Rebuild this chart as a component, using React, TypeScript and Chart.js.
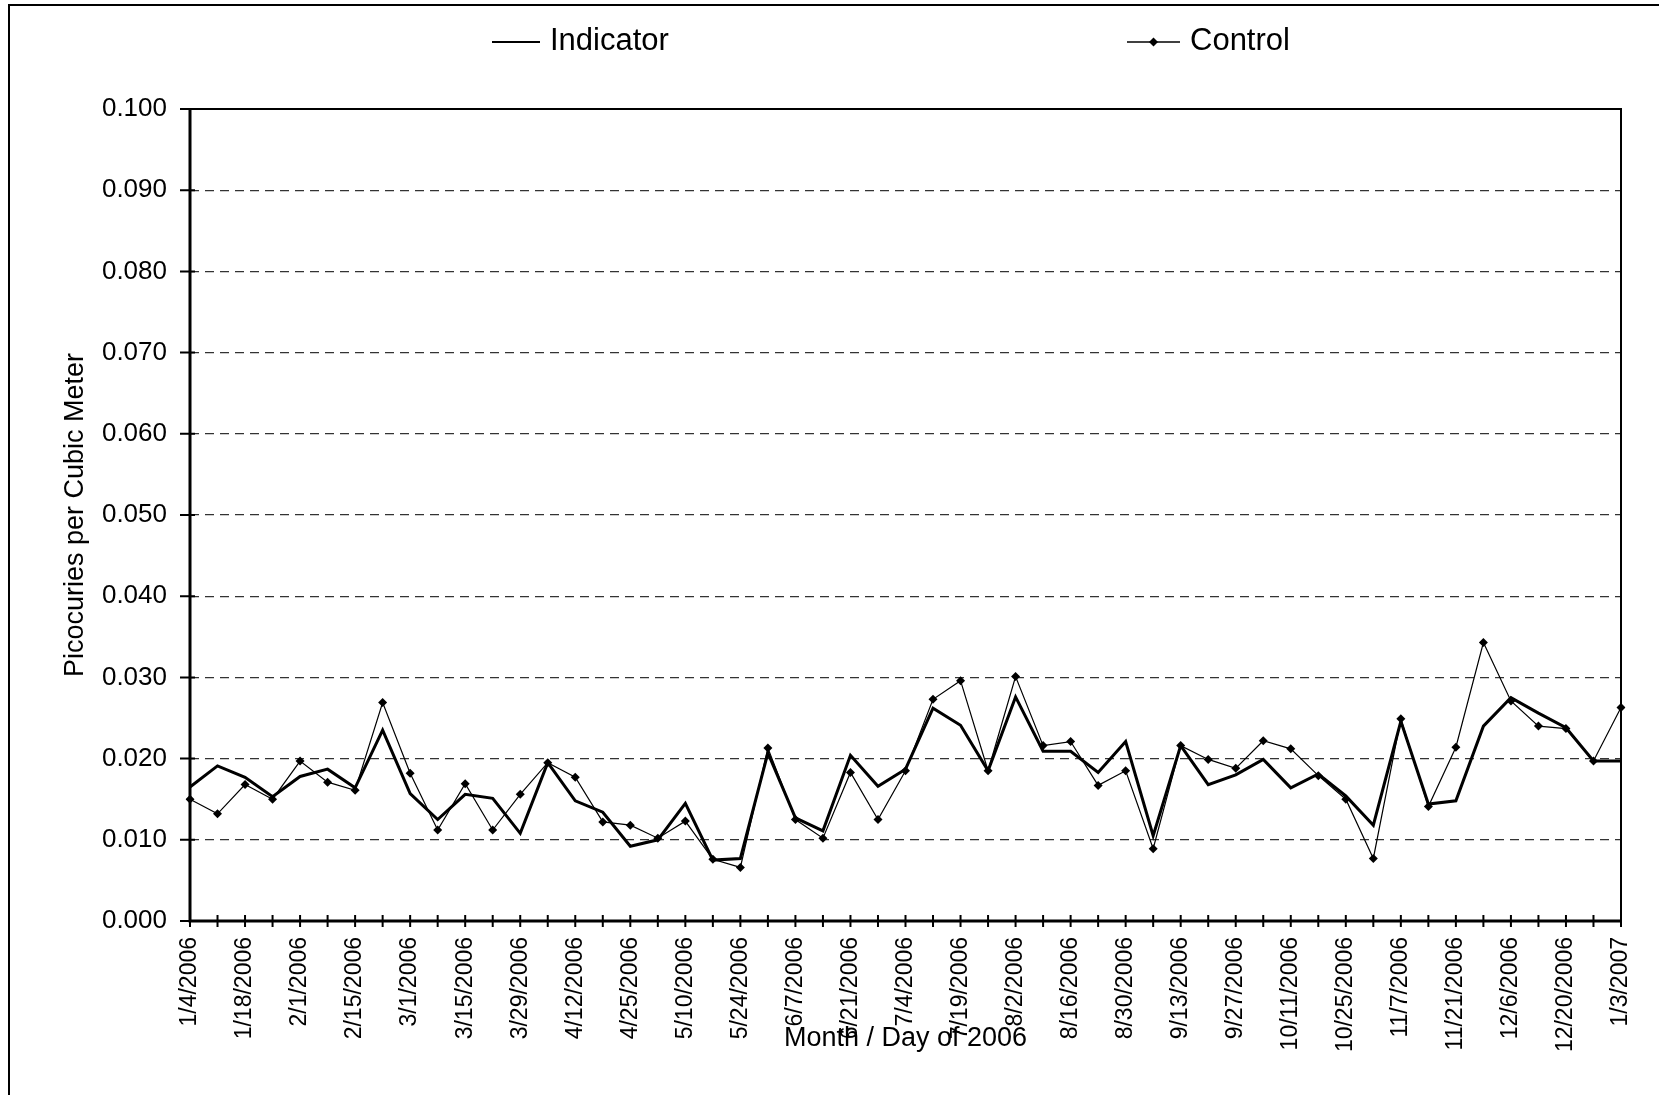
import React, { useEffect, useRef } from "react";
import { Chart, registerables } from "chart.js";

Chart.register(...registerables);

const categories = [
  "1/4/2006", "1/11/2006", "1/18/2006", "1/25/2006", "2/1/2006", "2/8/2006", "2/15/2006", "2/22/2006",
  "3/1/2006", "3/8/2006", "3/15/2006", "3/22/2006", "3/29/2006", "4/5/2006", "4/12/2006", "4/19/2006",
  "4/25/2006", "5/3/2006", "5/10/2006", "5/17/2006", "5/24/2006", "5/31/2006", "6/7/2006", "6/14/2006",
  "6/21/2006", "6/28/2006", "7/4/2006", "7/12/2006", "7/19/2006", "7/26/2006", "8/2/2006", "8/9/2006",
  "8/16/2006", "8/23/2006", "8/30/2006", "9/6/2006", "9/13/2006", "9/20/2006", "9/27/2006", "10/4/2006",
  "10/11/2006", "10/18/2006", "10/25/2006", "11/1/2006", "11/7/2006", "11/14/2006", "11/21/2006", "11/29/2006",
  "12/6/2006", "12/13/2006", "12/20/2006", "12/27/2006", "1/3/2007",
];

const indicator = [
  0.0165, 0.0191, 0.0177, 0.0153, 0.0178, 0.0187, 0.0164, 0.0235, 0.0157, 0.0125,
  0.0156, 0.0151, 0.0108, 0.0195, 0.0148, 0.0134, 0.0092, 0.0100, 0.0145, 0.0075,
  0.0077, 0.0207, 0.0127, 0.0111, 0.0204, 0.0166, 0.0187, 0.0262, 0.0241, 0.0185,
  0.0276, 0.0209, 0.0209, 0.0183, 0.0221, 0.0105, 0.0216, 0.0168, 0.0180, 0.0199,
  0.0164, 0.0181, 0.0154, 0.0118, 0.0246, 0.0144, 0.0148, 0.0240, 0.0275, 0.0256,
  0.0238, 0.0197, 0.0197,
];

const control = [
  0.0150, 0.0132, 0.0168, 0.0150, 0.0197, 0.0171, 0.0161, 0.0269, 0.0182, 0.0112,
  0.0169, 0.0112, 0.0156, 0.0195, 0.0177, 0.0122, 0.0118, 0.0102, 0.0123, 0.0076,
  0.0066, 0.0213, 0.0125, 0.0102, 0.0183, 0.0125, 0.0185, 0.0273, 0.0296, 0.0185,
  0.0301, 0.0216, 0.0221, 0.0167, 0.0185, 0.0089, 0.0216, 0.0199, 0.0188, 0.0222,
  0.0212, 0.0179, 0.0150, 0.0077, 0.0249, 0.0141, 0.0214, 0.0343, 0.0271, 0.0240,
  0.0237, 0.0197, 0.0263,
];

const seriesNames = ["Indicator", "Control"];
const xTitle = "Month / Day of 2006";
const yTitle = "Picocuries per Cubic Meter";
const yMin = 0;
const yMax = 0.1;
const yStep = 0.01;

const FONT = '"Liberation Sans", Arial, sans-serif';

const decorPlugin = {
  id: "decor",
  beforeDraw(chart: any) {
    const { ctx } = chart;
    ctx.save();
    ctx.fillStyle = "#fff";
    ctx.fillRect(0, 0, chart.width, chart.height);
    ctx.restore();
  },
  afterDraw(chart: any) {
    const { ctx, chartArea: a } = chart;
    const x = chart.scales.x;
    const y = chart.scales.y;
    ctx.save();
    ctx.strokeStyle = "#000";
    ctx.fillStyle = "#000";
    // outer frame
    ctx.lineWidth = 2;
    ctx.beginPath();
    ctx.moveTo(9, chart.height);
    ctx.lineTo(9, 5);
    ctx.lineTo(chart.width, 5);
    ctx.stroke();
    // plot box
    ctx.lineWidth = 2;
    ctx.strokeRect(a.left, a.top, a.right - a.left, a.bottom - a.top);
    ctx.lineWidth = 3;
    ctx.beginPath();
    ctx.moveTo(a.left, a.top);
    ctx.lineTo(a.left, a.bottom);
    ctx.lineTo(a.right, a.bottom);
    ctx.stroke();
    // tick marks
    ctx.lineWidth = 2;
    ctx.beginPath();
    x.ticks.forEach((_t: any, i: number) => {
      const px = x.getPixelForTick(i);
      ctx.moveTo(px, a.bottom - 6);
      ctx.lineTo(px, a.bottom + 6);
    });
    y.ticks.forEach((_t: any, i: number) => {
      const py = y.getPixelForTick(i);
      ctx.moveTo(a.left - 10, py);
      ctx.lineTo(a.left + 5, py);
    });
    ctx.stroke();
    // axis titles
    ctx.textAlign = "center";
    ctx.textBaseline = "middle";
    ctx.font = `27px ${FONT}`;
    ctx.fillText(xTitle, (a.left + a.right) / 2, 1039);
    ctx.save();
    ctx.translate(76, (a.top + a.bottom) / 2);
    ctx.rotate(-Math.PI / 2);
    ctx.font = `27px ${FONT}`;
    ctx.fillText(yTitle, 0, 0);
    ctx.restore();
    // legend
    const ds = chart.data.datasets;
    const legendY = 42;
    const items = [
      { x0: 492, x1: 540 },
      { x0: 1127, x1: 1180 },
    ];
    ctx.font = `31px ${FONT}`;
    ctx.textAlign = "left";
    ds.forEach((d: any, i: number) => {
      const it = items[i];
      ctx.lineWidth = i === 0 ? 2 : 1.3;
      ctx.beginPath();
      ctx.moveTo(it.x0, legendY);
      ctx.lineTo(it.x1, legendY);
      ctx.stroke();
      if (d.pointRadius > 0) {
        const cx = (it.x0 + it.x1) / 2;
        const r = 4.5;
        ctx.beginPath();
        ctx.moveTo(cx, legendY - r);
        ctx.lineTo(cx + r, legendY);
        ctx.lineTo(cx, legendY + r);
        ctx.lineTo(cx - r, legendY);
        ctx.closePath();
        ctx.fill();
      }
      ctx.fillText(d.label, it.x1 + 10, legendY - 1);
    });
    ctx.restore();
  },
};

export default function App() {
  const ref = useRef<HTMLCanvasElement | null>(null);

  useEffect(() => {
    if (!ref.current) return;
    const chart = new Chart(ref.current, {
      type: "line",
      data: {
        labels: categories,
        datasets: [
          {
            label: seriesNames[0],
            data: indicator,
            borderColor: "#000",
            backgroundColor: "#000",
            borderWidth: 3,
            pointRadius: 0,
            tension: 0,
          },
          {
            label: seriesNames[1],
            data: control,
            borderColor: "#000",
            backgroundColor: "#000",
            borderWidth: 1.2,
            pointStyle: "rectRot",
            pointRadius: 4.5,
            pointBorderWidth: 0,
            tension: 0,
          },
        ],
      },
      options: {
        animation: false,
        responsive: false,
        layout: { padding: { left: 0, right: 38, top: 109, bottom: 0 } },
        plugins: {
          legend: { display: false },
          tooltip: { enabled: false },
        },
        scales: {
          x: {
            type: "category",
            offset: false,
            afterFit: (s: any) => {
              s.height = 174;
              s.paddingLeft = 0;
              s.paddingRight = 0;
            },
            grid: { display: false, drawTicks: false },
            border: { display: false },
            ticks: {
              autoSkip: false,
              maxRotation: 90,
              minRotation: 90,
              padding: 16,
              color: "#000",
              font: { family: FONT, size: 23 },
              callback: (_v: any, i: number) => (i % 2 === 0 ? categories[i] : ""),
            },
          },
          y: {
            min: yMin,
            max: yMax,
            afterFit: (s: any) => {
              s.width = 190;
            },
            grid: { color: "#333", lineWidth: 1.3, drawTicks: false },
            border: { display: false, dash: [9, 6] },
            ticks: {
              stepSize: yStep,
              padding: 23,
              color: "#000",
              font: { family: FONT, size: 26 },
              callback: (v: any) => Number(v).toFixed(3),
            },
          },
        },
      },
      plugins: [decorPlugin],
    });
    return () => chart.destroy();
  }, []);

  return (
    <div style={{ position: "absolute", left: 0, top: 0, width: 1659, height: 1095 }}>
      <canvas ref={ref} width={1659} height={1095} />
    </div>
  );
}
